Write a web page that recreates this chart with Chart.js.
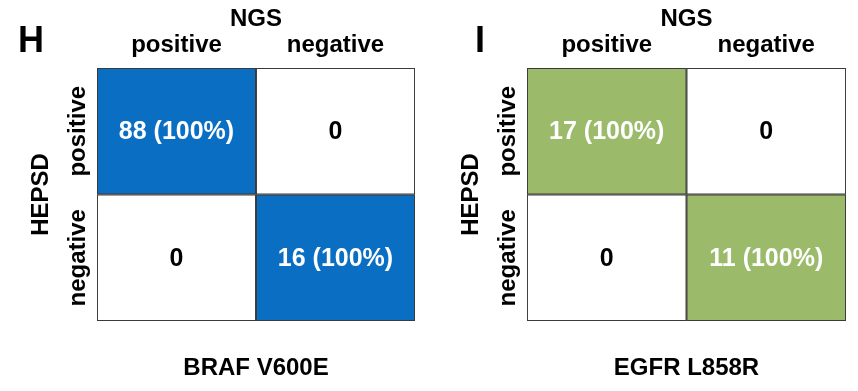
<!DOCTYPE html>
<html>
<head>
<meta charset="utf-8">
<script src="https://cdn.jsdelivr.net/npm/chart.js@4.4.1/dist/chart.umd.min.js"></script>
<style>
  body { margin: 0; background: #fff; }
  #wrap { position: relative; width: 858px; height: 391px; overflow: hidden; }
  canvas { position: absolute; top: 0; }
  .panel { position: absolute; top: 22px; font: bold 36px "Liberation Sans", Arial, sans-serif; line-height: 36px; color: #000; }
</style>
</head>
<body>
<div id="wrap">
  <canvas id="brafChart" width="429" height="391" style="left:0"></canvas>
  <canvas id="egfrChart" width="429" height="391" style="left:429px"></canvas>
  <div class="panel" style="left:18px">H</div>
  <div class="panel" style="left:475px">I</div>
</div>
<script>
var ngsLabels = ['positive', 'negative'];     // columns (NGS)
var hepsdLabels = ['positive', 'negative'];   // rows (HEPSD)

// counts per row, in column order
var brafPositiveRow = [88, 0];
var brafNegativeRow = [0, 16];
var egfrPositiveRow = [17, 0];
var egfrNegativeRow = [0, 11];

var FONT = '"Liberation Sans", Arial, sans-serif';

// writes the count (and row share) in the middle of each cell
var cellText = {
    id: 'cellText',
    afterDatasetsDraw: function(chart) {
        var ctx = chart.ctx;
        ctx.save();
        ctx.font = 'bold 25px ' + FONT;
        ctx.textAlign = 'center';
        ctx.textBaseline = 'middle';
        chart.data.datasets.forEach(function(ds, d) {
            var meta = chart.getDatasetMeta(d);
            var total = ds.counts.reduce(function(a, b) { return a + b; }, 0);
            meta.data.forEach(function(bar, i) {
                var n = ds.counts[i];
                var p = bar.getCenterPoint();
                var txt = n > 0 ? n + ' (' + Math.round(n / total * 100) + '%)' : String(n);
                ctx.fillStyle = n > 0 ? '#ffffff' : '#000000';
                ctx.fillText(txt, p.x, p.y + 1);
            });
        });
        ctx.restore();
    }
};

function makeMatrix(id, gene, positiveRow, negativeRow, color, padLeft, padRight) {
    var fill = function(row) {
        return row.map(function(n) { return n > 0 ? color : '#ffffff'; });
    };
    var bold = { family: FONT, size: 24, weight: 'bold' };
    var ctx = document.getElementById(id).getContext('2d');
    return new Chart(ctx, {
        type: 'bar',
        data: {
            labels: ngsLabels,
            datasets: [{
                label: hepsdLabels[1],
                data: negativeRow.map(function() { return 1; }),
                counts: negativeRow,
                backgroundColor: fill(negativeRow),
                borderColor: '#3a3a3a',
                borderWidth: 1.3,
                borderSkipped: false,
                barPercentage: 1,
                categoryPercentage: 1
            }, {
                label: hepsdLabels[0],
                data: positiveRow.map(function() { return 1; }),
                counts: positiveRow,
                backgroundColor: fill(positiveRow),
                borderColor: '#3a3a3a',
                borderWidth: 1.3,
                borderSkipped: false,
                barPercentage: 1,
                categoryPercentage: 1
            }]
        },
        options: {
            responsive: false,
            animation: false,
            layout: { padding: { top: 1, left: padLeft, right: padRight, bottom: 0 } },
            plugins: {
                legend: { display: false },
                tooltip: { enabled: false }
            },
            scales: {
                x: {
                    position: 'top',
                    stacked: true,
                    grid: { display: false },
                    border: { display: false },
                    ticks: { color: '#000', padding: 0, font: bold },
                    title: { display: true, text: 'NGS', color: '#000', padding: 4, font: bold },
                    afterFit: function(s) { s.height = 67; }
                },
                // only carries the gene name under the matrix
                gene: {
                    type: 'category',
                    axis: 'x',
                    position: 'bottom',
                    labels: ngsLabels,
                    grid: { display: false, drawTicks: false },
                    border: { display: false },
                    ticks: { display: false },
                    title: { display: true, text: gene, color: '#000', padding: { top: 0, bottom: 8 }, font: bold },
                    afterFit: function(s) { s.height = 70; }
                },
                y: {
                    stacked: true,
                    min: 0,
                    max: 2,
                    display: false
                },
                rows: {
                    type: 'category',
                    axis: 'y',
                    position: 'left',
                    labels: hepsdLabels,
                    offset: true,
                    grid: { display: false, drawTicks: false },
                    border: { display: false },
                    ticks: {
                        color: '#000',
                        minRotation: 90,
                        maxRotation: 90,
                        crossAlign: 'center',
                        padding: -30,
                        font: bold
                    },
                    title: { display: true, text: 'HEPSD', color: '#000', padding: 4, font: bold },
                    afterFit: function(s) { s.width = 74; }
                }
            }
        },
        plugins: [cellText]
    });
}

makeMatrix('brafChart', 'BRAF V600E', brafPositiveRow, brafNegativeRow, '#0a6fc2', 23, 14);
makeMatrix('egfrChart', 'EGFR L858R', egfrPositiveRow, egfrNegativeRow, '#9bbb6b', 24, 12);
</script>
</body>
</html>
